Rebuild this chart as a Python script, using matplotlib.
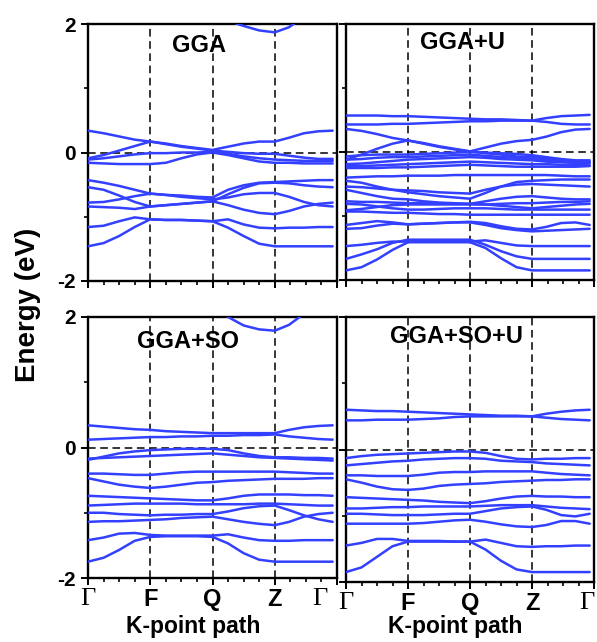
"""Band structures along Γ-F-Q-Z-Γ for GGA, GGA+U, GGA+SO and GGA+SO+U."""

import matplotlib
matplotlib.use("Agg")
import matplotlib.pyplot as plt
from matplotlib.ticker import FixedLocator, MultipleLocator

plt.rcParams["font.family"] = ["Liberation Sans", "DejaVu Sans"]
plt.rcParams["axes.unicode_minus"] = False

# k-path sample points (quarter steps per leg, last leg a bit shorter)
k = [0, 0.25, 0.5, 0.75, 1, 1.25, 1.5, 1.75, 2, 2.25, 2.5, 2.75, 3, 3.23, 3.47, 3.7, 3.93]
k_ticks = [0, 1, 2, 3, 4]
k_labels = ["Γ", "F", "Q", "Z", "Γ"]
panel_titles = ["GGA", "GGA+U", "GGA+SO", "GGA+SO+U"]

# energies (eV), one row per band
gga = [
    [2.8, 2.75, 2.7, 2.6, 2.55, 2.5, 2.45, 2.4, 2.3, 2.05, 1.97, 1.90, 1.87, 1.95, 2.12, 2.35, 2.6],
    [0.34, 0.30, 0.25, 0.20, 0.17, 0.14, 0.10, 0.07, 0.04, 0.09, 0.14, 0.17, 0.17, 0.23, 0.30, 0.33, 0.34],
    [-0.09, -0.04, 0.03, 0.10, 0.17, 0.13, 0.09, 0.06, 0.03, 0.01, -0.01, -0.02, -0.02, -0.05, -0.08, -0.10, -0.10],
    [-0.11, -0.09, -0.06, -0.03, -0.01, -0.01, 0.00, 0.00, 0.01, -0.02, -0.06, -0.09, -0.11, -0.12, -0.13, -0.13, -0.13],
    [-0.16, -0.17, -0.18, -0.18, -0.18, -0.16, -0.09, -0.03, 0.00, -0.04, -0.09, -0.14, -0.16, -0.16, -0.17, -0.17, -0.17],
    [-0.43, -0.47, -0.52, -0.58, -0.64, -0.66, -0.67, -0.69, -0.70, -0.58, -0.51, -0.47, -0.46, -0.45, -0.44, -0.43, -0.43],
    [-0.54, -0.58, -0.67, -0.77, -0.84, -0.82, -0.80, -0.78, -0.76, -0.65, -0.55, -0.48, -0.47, -0.48, -0.51, -0.53, -0.54],
    [-0.78, -0.77, -0.73, -0.68, -0.64, -0.66, -0.69, -0.71, -0.73, -0.70, -0.65, -0.63, -0.63, -0.69, -0.77, -0.82, -0.84],
    [-0.84, -0.85, -0.86, -0.88, -0.84, -0.82, -0.80, -0.78, -0.76, -0.82, -0.89, -0.94, -0.96, -0.91, -0.84, -0.80, -0.78],
    [-1.16, -1.14, -1.07, -1.01, -1.04, -1.05, -1.05, -1.06, -1.07, -1.04, -1.12, -1.17, -1.18, -1.17, -1.17, -1.16, -1.16],
    [-1.46, -1.41, -1.30, -1.16, -1.04, -1.05, -1.05, -1.06, -1.07, -1.17, -1.30, -1.42, -1.46, -1.46, -1.46, -1.46, -1.46],
]

gga_u = [
    [0.57, 0.57, 0.57, 0.56, 0.56, 0.55, 0.54, 0.53, 0.52, 0.51, 0.51, 0.50, 0.49, 0.53, 0.56, 0.57, 0.58],
    [0.43, 0.43, 0.43, 0.44, 0.44, 0.45, 0.46, 0.47, 0.48, 0.48, 0.49, 0.49, 0.49, 0.47, 0.44, 0.43, 0.43],
    [0.36, 0.33, 0.28, 0.22, 0.18, 0.14, 0.09, 0.05, 0.01, 0.07, 0.13, 0.17, 0.19, 0.24, 0.31, 0.35, 0.36],
    [-0.12, -0.04, 0.05, 0.13, 0.18, 0.13, 0.08, 0.04, 0.01, -0.02, -0.04, -0.07, -0.08, -0.10, -0.13, -0.15, -0.16],
    [-0.07, -0.05, -0.04, -0.04, -0.04, -0.03, -0.02, -0.01, 0.00, -0.01, -0.02, -0.03, -0.05, -0.08, -0.11, -0.13, -0.13],
    [-0.12, -0.11, -0.09, -0.08, -0.08, -0.07, -0.06, -0.05, -0.04, -0.06, -0.08, -0.09, -0.11, -0.13, -0.14, -0.15, -0.16],
    [-0.19, -0.18, -0.16, -0.14, -0.12, -0.11, -0.10, -0.09, -0.08, -0.09, -0.11, -0.12, -0.13, -0.15, -0.16, -0.17, -0.18],
    [-0.22, -0.22, -0.21, -0.20, -0.19, -0.18, -0.17, -0.16, -0.15, -0.16, -0.17, -0.18, -0.19, -0.19, -0.20, -0.20, -0.21],
    [-0.25, -0.25, -0.25, -0.24, -0.24, -0.23, -0.22, -0.21, -0.20, -0.21, -0.22, -0.23, -0.23, -0.23, -0.23, -0.23, -0.22],
    [-0.40, -0.39, -0.38, -0.38, -0.37, -0.37, -0.37, -0.36, -0.36, -0.36, -0.36, -0.36, -0.36, -0.36, -0.37, -0.38, -0.38],
    [-0.45, -0.48, -0.54, -0.59, -0.63, -0.66, -0.69, -0.71, -0.73, -0.64, -0.54, -0.47, -0.45, -0.44, -0.43, -0.43, -0.43],
    [-0.54, -0.55, -0.57, -0.59, -0.60, -0.61, -0.63, -0.64, -0.65, -0.59, -0.54, -0.51, -0.50, -0.51, -0.52, -0.53, -0.54],
    [-0.59, -0.64, -0.69, -0.73, -0.74, -0.77, -0.79, -0.80, -0.81, -0.77, -0.73, -0.70, -0.69, -0.71, -0.73, -0.74, -0.74],
    [-0.77, -0.78, -0.78, -0.79, -0.80, -0.80, -0.80, -0.81, -0.81, -0.82, -0.84, -0.86, -0.88, -0.86, -0.84, -0.82, -0.81],
    [-0.81, -0.82, -0.85, -0.88, -0.90, -0.90, -0.89, -0.88, -0.88, -0.88, -0.89, -0.90, -0.90, -0.90, -0.90, -0.90, -0.90],
    [-0.91, -0.89, -0.86, -0.83, -0.82, -0.82, -0.82, -0.82, -0.82, -0.82, -0.81, -0.80, -0.80, -0.79, -0.78, -0.78, -0.77],
    [-0.93, -0.93, -0.94, -0.95, -0.95, -0.96, -0.97, -0.97, -0.98, -0.98, -0.98, -0.98, -0.98, -0.98, -0.98, -0.98, -0.98],
    [-1.20, -1.19, -1.15, -1.12, -1.13, -1.12, -1.11, -1.10, -1.10, -1.14, -1.19, -1.22, -1.24, -1.23, -1.22, -1.21, -1.20],
    [-1.14, -1.11, -1.08, -1.10, -1.13, -1.12, -1.11, -1.10, -1.09, -1.11, -1.16, -1.20, -1.21, -1.17, -1.11, -1.10, -1.14],
    [-1.47, -1.45, -1.42, -1.40, -1.40, -1.40, -1.40, -1.40, -1.40, -1.38, -1.42, -1.46, -1.47, -1.47, -1.47, -1.47, -1.47],
    [-1.67, -1.60, -1.52, -1.42, -1.37, -1.37, -1.37, -1.37, -1.37, -1.45, -1.55, -1.63, -1.67, -1.67, -1.67, -1.67, -1.67],
    [-1.85, -1.80, -1.68, -1.53, -1.41, -1.41, -1.41, -1.41, -1.41, -1.50, -1.66, -1.80, -1.85, -1.85, -1.85, -1.85, -1.85],
]

gga_so = [
    [2.8, 2.75, 2.7, 2.6, 2.55, 2.5, 2.45, 2.4, 2.3, 2.0, 1.87, 1.81, 1.79, 1.88, 2.05, 2.3, 2.6],
    [0.34, 0.32, 0.30, 0.28, 0.27, 0.25, 0.24, 0.23, 0.22, 0.22, 0.22, 0.22, 0.22, 0.27, 0.31, 0.33, 0.34],
    [0.12, 0.13, 0.14, 0.15, 0.16, 0.16, 0.17, 0.17, 0.18, 0.18, 0.19, 0.19, 0.20, 0.17, 0.15, 0.13, 0.12],
    [-0.19, -0.14, -0.09, -0.06, -0.04, -0.03, -0.02, -0.02, -0.02, -0.04, -0.09, -0.13, -0.15, -0.15, -0.16, -0.16, -0.17],
    [-0.17, -0.16, -0.15, -0.14, -0.13, -0.12, -0.11, -0.10, -0.09, -0.11, -0.13, -0.15, -0.16, -0.17, -0.18, -0.19, -0.20],
    [-0.40, -0.40, -0.41, -0.42, -0.42, -0.40, -0.38, -0.37, -0.37, -0.37, -0.37, -0.37, -0.37, -0.38, -0.39, -0.40, -0.40],
    [-0.47, -0.52, -0.57, -0.60, -0.62, -0.60, -0.57, -0.54, -0.53, -0.51, -0.50, -0.49, -0.48, -0.48, -0.48, -0.47, -0.47],
    [-0.74, -0.75, -0.76, -0.77, -0.78, -0.79, -0.80, -0.81, -0.81, -0.78, -0.74, -0.72, -0.72, -0.72, -0.73, -0.73, -0.74],
    [-0.89, -0.88, -0.87, -0.86, -0.86, -0.86, -0.86, -0.87, -0.87, -0.87, -0.87, -0.86, -0.86, -0.87, -0.88, -0.89, -0.89],
    [-1.00, -1.00, -1.02, -1.03, -1.04, -1.03, -1.03, -1.02, -1.02, -0.98, -0.93, -0.90, -0.89, -0.96, -1.04, -1.10, -1.14],
    [-1.14, -1.13, -1.13, -1.12, -1.11, -1.10, -1.08, -1.07, -1.06, -1.10, -1.14, -1.17, -1.19, -1.14, -1.06, -1.02, -1.00],
    [-1.42, -1.38, -1.32, -1.31, -1.34, -1.35, -1.35, -1.35, -1.35, -1.33, -1.38, -1.42, -1.43, -1.43, -1.42, -1.42, -1.42],
    [-1.75, -1.69, -1.57, -1.43, -1.37, -1.36, -1.36, -1.36, -1.37, -1.47, -1.62, -1.72, -1.75, -1.75, -1.75, -1.75, -1.75],
]

gga_so_u = [
    [0.60, 0.59, 0.58, 0.58, 0.57, 0.56, 0.55, 0.54, 0.53, 0.52, 0.51, 0.51, 0.50, 0.54, 0.57, 0.59, 0.60],
    [0.44, 0.44, 0.45, 0.45, 0.45, 0.46, 0.47, 0.49, 0.50, 0.50, 0.50, 0.50, 0.50, 0.48, 0.46, 0.45, 0.44],
    [-0.13, -0.10, -0.08, -0.07, -0.06, -0.05, -0.04, -0.03, -0.03, -0.05, -0.10, -0.14, -0.15, -0.14, -0.14, -0.13, -0.13],
    [-0.24, -0.22, -0.20, -0.18, -0.17, -0.15, -0.14, -0.13, -0.13, -0.14, -0.17, -0.18, -0.19, -0.21, -0.22, -0.23, -0.24],
    [-0.39, -0.39, -0.40, -0.40, -0.40, -0.38, -0.35, -0.34, -0.34, -0.33, -0.33, -0.33, -0.33, -0.35, -0.37, -0.38, -0.39],
    [-0.45, -0.50, -0.56, -0.60, -0.61, -0.59, -0.55, -0.53, -0.52, -0.51, -0.49, -0.48, -0.47, -0.46, -0.46, -0.45, -0.45],
    [-0.72, -0.73, -0.74, -0.75, -0.76, -0.77, -0.79, -0.80, -0.81, -0.78, -0.74, -0.71, -0.70, -0.71, -0.71, -0.72, -0.72],
    [-0.89, -0.89, -0.88, -0.87, -0.87, -0.86, -0.86, -0.86, -0.86, -0.85, -0.84, -0.84, -0.84, -0.86, -0.88, -0.89, -0.90],
    [-0.97, -0.97, -0.98, -0.99, -0.99, -0.99, -0.98, -0.97, -0.97, -0.93, -0.89, -0.87, -0.86, -0.91, -0.99, -1.01, -0.97],
    [-1.12, -1.12, -1.12, -1.12, -1.12, -1.11, -1.09, -1.07, -1.06, -1.09, -1.13, -1.16, -1.17, -1.14, -1.08, -1.08, -1.12],
    [-1.45, -1.41, -1.35, -1.35, -1.38, -1.38, -1.38, -1.39, -1.39, -1.36, -1.41, -1.46, -1.47, -1.46, -1.46, -1.45, -1.45],
    [-1.85, -1.78, -1.62, -1.46, -1.39, -1.39, -1.39, -1.39, -1.39, -1.51, -1.68, -1.81, -1.85, -1.85, -1.85, -1.85, -1.85],
]

BLUE = "#3340ff"
W, H = 597, 642
GAMMA_FONT = ["Liberation Serif", "DejaVu Serif"]


def px_box(left, top, right, bottom):
    return [left / W, 1 - bottom / H, (right - left) / W, (bottom - top) / H]


def main() -> None:
    fig = plt.figure(figsize=(W / 100, H / 100), dpi=100)

    boxes = [px_box(88, 24, 337, 281), px_box(346, 24, 594, 280),
             px_box(88, 317, 337, 578), px_box(346, 317, 594, 582)]
    title_pos = [(0.446, 0.918), (0.468, 0.926), (0.40, 0.908), (0.444, 0.928)]
    end_gamma_x = [3.73, 3.73, 3.73, 3.88]
    data = [gga, gga_u, gga_so, gga_so_u]

    for i, (box, bands) in enumerate(zip(boxes, data)):
        ax = fig.add_axes(box)
        for b in bands:
            ax.plot(k, b, color=BLUE, lw=1.8, solid_joinstyle="round",
                    solid_capstyle="round", zorder=3)
        ax.axhline(0, color="black", lw=1.1, ls=(0, (5, 3)), zorder=2)
        for kk in k_ticks[1:4]:
            ax.axvline(kk, color="black", lw=1.1, ls=(0, (5, 3)), zorder=2)

        ax.set_xlim(0, 4)
        ax.set_ylim(-2, 2)
        for s in ax.spines.values():
            s.set_linewidth(1.7)

        ax.xaxis.set_major_locator(FixedLocator(k_ticks))
        ax.xaxis.set_minor_locator(MultipleLocator(0.25))
        ax.yaxis.set_major_locator(FixedLocator([-2, 0, 2]))
        ax.yaxis.set_minor_locator(FixedLocator([-1, 1]))
        ax.tick_params(which="major", direction="out", length=5, width=1.4)
        ax.tick_params(which="minor", direction="out", length=3, width=1.2)

        left = i % 2 == 0
        bottom = i >= 2
        if left:
            ax.set_yticklabels(["-2", "0", "2"], fontsize=15, fontweight="bold")
        else:
            ax.tick_params(axis="y", labelleft=False)
        if bottom:
            # last Γ is set a little inside the frame, as in the original
            ax.set_xticklabels(k_labels[:4] + [""], fontsize=17, fontweight="bold")
            ax.tick_params(axis="x", pad=2)
            first = ax.get_xticklabels()[0]
            first.set_fontfamily(GAMMA_FONT)
            first.set_fontweight("normal")
            first.set_fontsize(19)
            ax.annotate(k_labels[-1], xy=(end_gamma_x[i], 0),
                        xycoords=("data", "axes fraction"), xytext=(0, -7),
                        textcoords="offset points", ha="center", va="top",
                        fontsize=19, family=GAMMA_FONT)
        else:
            ax.tick_params(axis="x", labelbottom=False)

        tx, ty = title_pos[i]
        ax.text(tx, ty, panel_titles[i], transform=ax.transAxes, ha="center",
                va="center", fontsize=17, fontweight="bold", zorder=4)

    fig.text(28 / W, 1 - 305 / H, "Energy (eV)", rotation=90, ha="center",
             va="center", fontsize=20, fontweight="bold")
    fig.text(193 / W, 1 - 626 / H, "K-point path", ha="center", va="center",
             fontsize=16.5, fontweight="bold")
    fig.text(455 / W, 1 - 626 / H, "K-point path", ha="center", va="center",
             fontsize=16.5, fontweight="bold")

    fig.savefig("out.png", dpi=100)


if __name__ == "__main__":
    main()
